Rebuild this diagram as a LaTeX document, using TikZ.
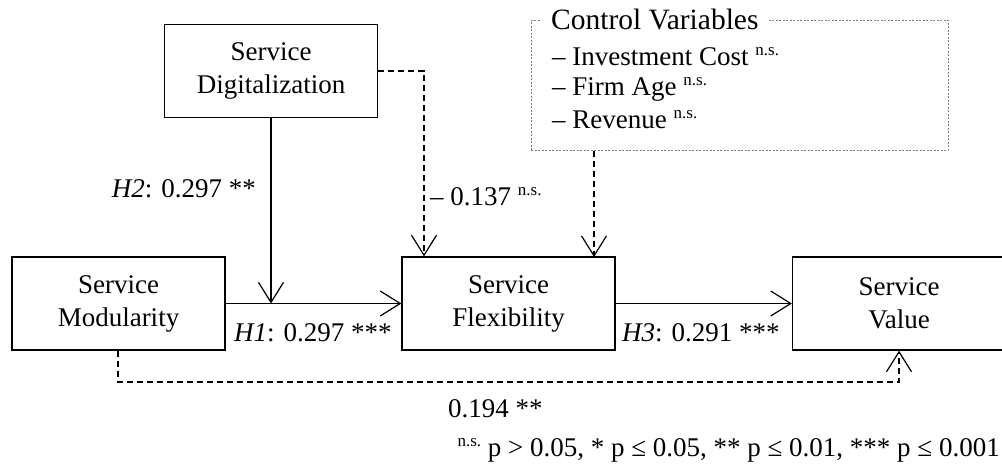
\documentclass[tikz,border=0pt]{standalone}
\usepackage{fontspec}
\setmainfont{Liberation Serif}
\usetikzlibrary{arrows.meta}
\newcommand\nsup{\raisebox{10pt}{\fontsize{17}{17}\selectfont n.s.}}
\tikzset{
  box/.style={draw, line width=1.3pt, minimum width=213pt, minimum height=93pt, align=center, inner sep=0pt, font=\fontsize{27}{33}\selectfont},
  lbl/.style={inner sep=0pt, font=\fontsize{27}{32}\selectfont},
  conn/.style={line width=1.2pt, -{Straight Barb[length=20pt,width=25pt,line width=1.2pt]}},
  dconn/.style={conn, dash pattern=on 6pt off 4pt},
  cvbox/.style={draw=gray, line width=1pt, dash pattern=on 2pt off 1.5pt, minimum width=417pt, minimum height=130pt, inner sep=0pt}
}
\begin{document}
\begin{tikzpicture}[x=1pt,y=-1pt]
\useasboundingbox (0,0) rectangle (1002,472);
% boxes
\node[box] (dig) at (271,71) {Service\\Digitalization};
\node[box] (mod) at (118.5,303.5) {Service\\Modularity};
\node[box] (flex) at (508.5,303.5) {Service\\Flexibility};
\node[box] (val) at (899,303.5) {Service\\Value};
% control variables
\node[cvbox] (cv) at (739.5,85) {};
\node[lbl, fill=white, inner xsep=10pt, anchor=west, font=\fontsize{29.5}{32}\selectfont] (cvt) at (541,19) {Control Variables};
\node[lbl, anchor=west] (cv1) at (552,57) {– Investment Cost \nsup};
\node[lbl, anchor=west] (cv2) at (552,89) {– Firm Age \nsup};
\node[lbl, anchor=west] (cv3) at (552,120) {– Revenue \nsup};
% junction coordinates
\coordinate (j1) at (dig.south |- mod.east);
\coordinate (c1) at (424,71);
\coordinate (b1) at (118,382);
\coordinate (b2) at (899,382);
% connectors
\draw[line width=1.2pt] (mod.east) -- (j1);
\draw[conn] (j1) -- (flex.west);
\draw[conn] (dig.south) -- (j1);
\draw[conn] (flex.east) -- (val.west);
\draw[dconn] (dig.east |- c1) -- (c1) -- (c1 |- flex.north);
\draw[dconn] (cv.south -| 594,0) -- (594,257);
\draw[dconn] (mod.south -| b1) -- (b1) -- (b2) -- (b2 |- val.south);
% labels
\node[lbl, anchor=east] (h2) at (256,189) {\textit{H2}: 0.297 **};
\node[lbl, anchor=west] (h1) at (234,333) {\textit{H1}: 0.297 ***};
\node[lbl, anchor=west] (h3) at (622,333) {\textit{H3}: 0.291 ***};
\node[lbl, anchor=west] (l137) at (430,197) {– 0.137 \nsup};
\node[lbl, anchor=west] (l194) at (448,409) {0.194 **};
\node[lbl, anchor=east] (foot) at (1000,450) {\nsup\ p > 0.05, * p ≤ 0.05, ** p ≤ 0.01, *** p ≤ 0.001};
\end{tikzpicture}
\end{document}
